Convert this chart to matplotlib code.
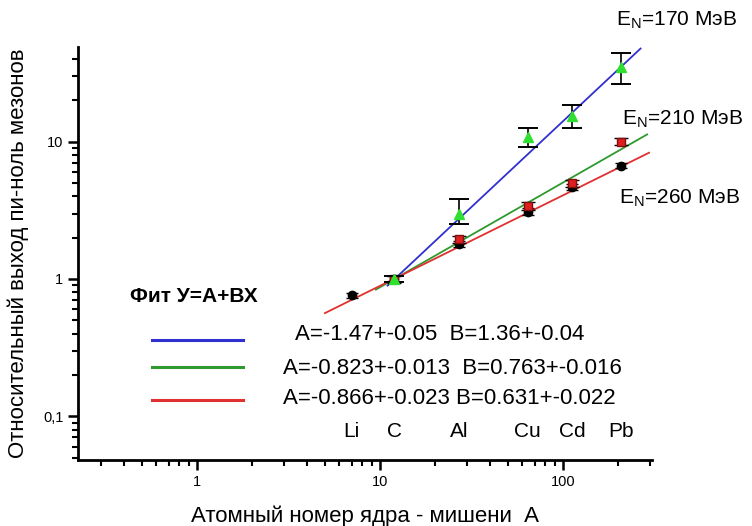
import numpy as np
import matplotlib.pyplot as plt
from matplotlib.ticker import LogLocator, FixedLocator, FixedFormatter, NullFormatter

plt.rcParams['font.family'] = ['Liberation Sans', 'DejaVu Sans']

# Данные (массовое число мишени A, относительный выход)
elements = ["Li", "C", "Al", "Cu", "Cd", "Pb"]
mass_numbers = [7, 12, 27, 64, 112, 207]

x_170 = [12, 27, 64, 112, 207]
y_170 = [1.0, 3.0, 10.8, 15.5, 35.0]
err_lo_170 = [0.05, 0.5, 1.6, 2.9, 8.5]
err_hi_170 = [0.05, 0.8, 1.8, 3.1, 9.0]

x_210 = [12, 27, 64, 112, 207]
y_210 = [1.0, 1.95, 3.4, 5.0, 10.0]
err_210 = [0.06, 0.12, 0.22, 0.3, 0.6]

x_260 = [7, 12, 27, 64, 112, 207]
y_260 = [0.76, 1.0, 1.8, 3.1, 4.7, 6.7]
err_260 = [0.03, 0.05, 0.1, 0.18, 0.25, 0.3]

# линии фита log10(y) = a + b*log10(x), как нарисованы
fit_a = [-1.35, -0.823, -0.71]
fit_b = [1.25, 0.763, 0.66]
fit_xmin = [11, 9.5, 5]
fit_xmax = [265, 288, 295]
fit_colors = ['#3030d0', '#2e9a2e', '#e03030']
fit_labels = ["A=-1.47+-0.05  B=1.36+-0.04",
              "A=-0.823+-0.013  B=0.763+-0.016",
              "A=-0.866+-0.023 B=0.631+-0.022"]
energy_labels = ["E$_\\mathregular{N}$=170 МэВ", "E$_\\mathregular{N}$=210 МэВ",
                 "E$_\\mathregular{N}$=260 МэВ"]

fig = plt.figure(figsize=(7.52, 5.26), dpi=100)
ax = fig.add_axes([0.1037, 0.1255, 0.7633, 0.7851])
ax.set_xscale('log')
ax.set_yscale('log')
ax.set_xlim(0.224, 306)
ax.set_ylim(0.048, 49)

for a, b, x0, x1, c in zip(fit_a, fit_b, fit_xmin, fit_xmax, fit_colors):
    xs = np.array([x0, x1])
    ax.plot(xs, 10 ** (a + b * np.log10(xs)), color=c, lw=1.3, zorder=2)

ax.errorbar(x_260, y_260, yerr=err_260, fmt='o', color='black', ms=6,
            ecolor='black', elinewidth=1, capsize=4, zorder=3)
ax.errorbar(x_210, y_210, yerr=err_210, fmt='s', color='#e02020', mec='#801010',
            ms=6, ecolor='black', elinewidth=1, capsize=5, zorder=4)
ax.errorbar(x_170, y_170, yerr=[err_lo_170, err_hi_170], fmt='^', color='#30e030',
            ms=7, ecolor='black', elinewidth=1.2, capsize=7, capthick=1.4, zorder=5)

# подписи элементов
for name, A in zip(elements, mass_numbers):
    ax.text(A, 0.078, name, ha='center', va='center', fontsize=15)

# энергии
energy_pos = [(616, 20), (622, 119), (619, 198)]
for (px, py), lab in zip(energy_pos, energy_labels):
    fig.text(px / 752, 1 - py / 526, lab, fontsize=15, va='center')

# легенда фита
fig.text(130 / 752, 1 - 297 / 526, "Фит У=А+ВХ", fontsize=15, fontweight='bold', va='center')
line_y = [340, 367, 400]
text_x = [295, 283, 283]
text_y = [335, 368, 398]
for ly, tx, ty, c, lab in zip(line_y, text_x, text_y, fit_colors, fit_labels):
    fig.lines.append(plt.Line2D([152 / 752, 243 / 752], [1 - ly / 526, 1 - ly / 526],
                                color=c, lw=2.2, transform=fig.transFigure))
    fig.text(tx / 752, 1 - ty / 526, lab, fontsize=16, va='center')

# оси
for s in ['top', 'right']:
    ax.spines[s].set_visible(False)
for s in ['left', 'bottom']:
    ax.spines[s].set_linewidth(2)

ax.xaxis.set_major_locator(FixedLocator([1, 10, 100]))
ax.xaxis.set_major_formatter(FixedFormatter(["1", "10", "100"]))
ax.xaxis.set_minor_locator(LogLocator(base=10, subs=np.arange(2, 10)))
ax.xaxis.set_minor_formatter(NullFormatter())
ax.yaxis.set_major_locator(FixedLocator([0.1, 1, 10]))
ax.yaxis.set_major_formatter(FixedFormatter(["0,1", "1", "10"]))
ax.yaxis.set_minor_locator(LogLocator(base=10, subs=np.arange(2, 10)))
ax.yaxis.set_minor_formatter(NullFormatter())
ax.tick_params(which='major', direction='out', length=7, width=1.8, labelsize=10.5)
ax.tick_params(which='minor', direction='out', length=4, width=1.5)

ax.set_xlabel("Атомный номер ядра - мишени  А", fontsize=16, labelpad=12)
ax.set_ylabel("Относительный выход пи-ноль мезонов", fontsize=16, labelpad=10)

fig.savefig("out.png", dpi=100)
